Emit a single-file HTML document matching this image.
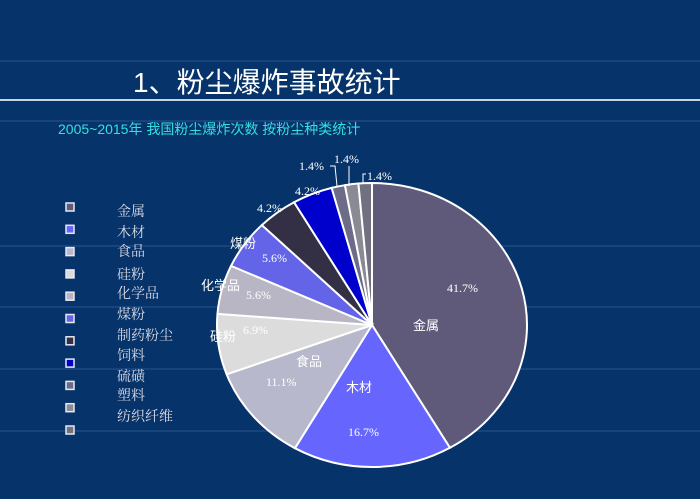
<!DOCTYPE html>
<html><head><meta charset="utf-8"><style>
body{margin:0;width:700px;height:494px;background:#06336a;overflow:hidden;font-family:"Liberation Sans","Noto Sans CJK SC",sans-serif}
</style></head><body>
<svg id="s" width="700" height="494" xmlns="http://www.w3.org/2000/svg">
<rect width="700" height="494" fill="#06336a"/>
<g stroke="#2a5590" stroke-width="1">
<line x1="0" y1="61" x2="700" y2="61"/><line x1="0" y1="121" x2="700" y2="121"/>
<line x1="0" y1="246" x2="700" y2="246"/><line x1="0" y1="307" x2="700" y2="307"/>
<line x1="0" y1="369" x2="700" y2="369"/><line x1="0" y1="431" x2="700" y2="431"/>
</g>
<line x1="0" y1="100" x2="700" y2="100" stroke="#c8d4e4" stroke-width="2"/>
<text x="133" y="92" fill="#fff" font-size="28" font-family="Liberation Sans,Noto Sans CJK SC,sans-serif">1、粉尘爆炸事故统计</text>
<text x="58" y="134" fill="#33e0e0" font-size="14" font-family="Liberation Sans,Noto Sans CJK SC,sans-serif">2005~2015年  我国粉尘爆炸次数  按粉尘种类统计</text>
<g id="pie"></g>
<g id="leg" font-size="14" fill="#dcdce6" font-family="Liberation Serif,Noto Serif CJK SC,serif"></g>
<g font-family="Liberation Serif,serif" font-size="12" fill="#fff">
<text x="447" y="292">41.7%</text>
<text x="348" y="436">16.7%</text>
<text x="266" y="386">11.1%</text>
<text x="243" y="334">6.9%</text>
<text x="246" y="299">5.6%</text>
<text x="262" y="262">5.6%</text>
<text x="257" y="212">4.2%</text>
<text x="295" y="195">4.2%</text>
<text x="299" y="170">1.4%</text>
<text x="334" y="163">1.4%</text>
<text x="367" y="180">1.4%</text>
</g>
<g stroke="#fff" fill="none" stroke-width="1">
<polyline points="330,166 335,166 337,186"/>
<polyline points="349,166 349,186"/>
<polyline points="363,183 363,174 366,174"/>
</g>
<g font-family="Liberation Sans,Noto Sans CJK SC,sans-serif" font-size="13" fill="#fff">
<text x="413" y="330">金属</text>
<text x="346" y="392">木材</text>
<text x="296" y="366">食品</text>
<text x="210" y="341">硅粉</text>
<text x="201" y="290">化学品</text>
<text x="230" y="248">煤粉</text>
</g>
</svg>
<script>
var cx=372,cy=325,rx=155,ry=142;
var d=[[41.7,"#5f5a7a"],[16.7,"#6666ff"],[11.1,"#b8b8cc"],[6.9,"#dcdcdc"],[5.6,"#b8b6c4"],[5.6,"#6464e8"],[4.2,"#333046"],[4.2,"#0000cc"],[1.4,"#6c6c88"],[1.4,"#8a8a94"],[1.4,"#707080"]];
var tot=0;d.forEach(function(x){tot+=x[0]});
var a=-Math.PI/2,h="";
d.forEach(function(x){var b=a+x[0]/tot*2*Math.PI;
var x1=cx+rx*Math.cos(a),y1=cy+ry*Math.sin(a),x2=cx+rx*Math.cos(b),y2=cy+ry*Math.sin(b);
h+='<path d="M'+cx+','+cy+'L'+x1+','+y1+'A'+rx+','+ry+' 0 '+((b-a)>Math.PI?1:0)+' 1 '+x2+','+y2+'Z" fill="'+x[1]+'" stroke="#fff" stroke-width="2"/>';a=b;});
document.getElementById('pie').innerHTML=h;
var names=["金属","木材","食品","硅粉","化学品","煤粉","制药粉尘","饲料","硫磺","塑料","纺织纤维"];
var ys=[216,237,256,279,298,319,340,360,381,400,421];
var lc=["#5f5a7a","#6666ff","#b8b8cc","#dcdcdc","#b8b6c4","#6464e8","#333046","#0000cc","#6c6c88","#8a8a94","#707080"];
var g="";
for(var i=0;i<11;i++){var sy=207+i*22.3-4;g+='<rect x="66" y="'+sy+'" width="8" height="8" fill="'+lc[i]+'" stroke="#e8e8f0" stroke-width="1.5"/>';}
names.forEach(function(n,i){g+='<text x="117" y="'+ys[i]+'">'+n+'</text>';});
document.getElementById('leg').innerHTML=g;
</script>
</body></html>
